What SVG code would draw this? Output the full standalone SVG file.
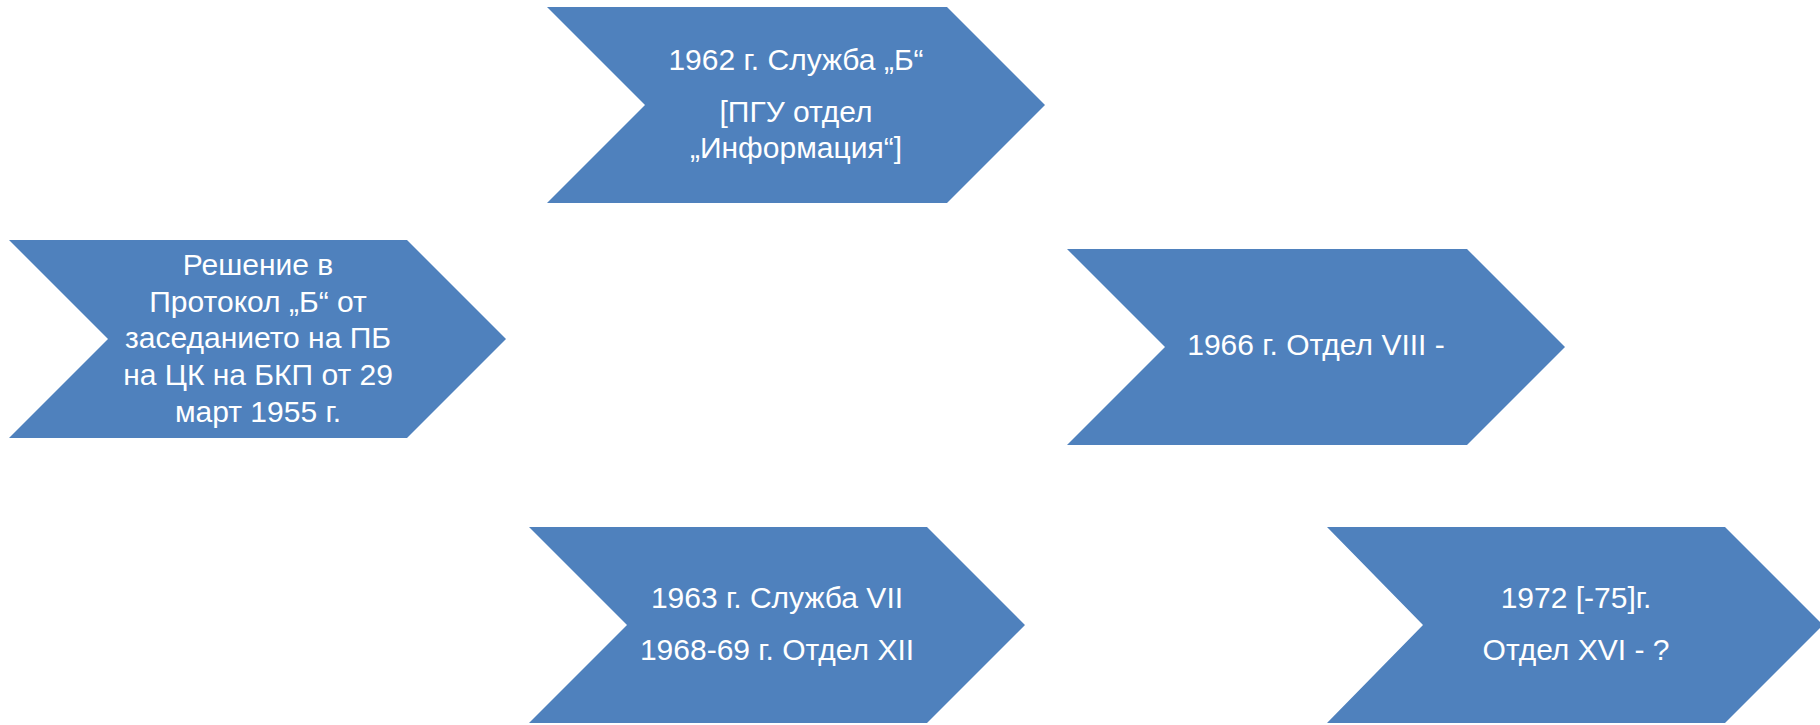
<svg xmlns="http://www.w3.org/2000/svg" width="1820" height="725" viewBox="0 0 1820 725">
<style>
.shape{fill:#4F81BD;stroke:none}
.lbl{font-family:"Liberation Sans","Noto Sans",Arial,sans-serif;font-size:30px;fill:#FFFFFF;text-anchor:middle}
</style>
<rect width="1820" height="725" fill="#FFFFFF"/>
<g id="connectors"></g>
<g id="node1">
<polygon class="shape" points="9,240 407,240 506,339 407,438 9,438 108,339"/>
<text class="lbl" x="258" y="275">Решение в</text>
<text class="lbl" x="258" y="312">Протокол „Б“ от</text>
<text class="lbl" x="258" y="348">заседанието на ПБ</text>
<text class="lbl" x="258" y="385">на ЦК на БКП от 29</text>
<text class="lbl" x="258" y="422">март 1955 г.</text>
</g>
<g id="node2">
<polygon class="shape" points="547,7 947,7 1045,105 947,203 547,203 645,105"/>
<text class="lbl" x="796" y="70">1962 г. Служба „Б“</text>
<text class="lbl" x="796" y="122">[ПГУ отдел</text>
<text class="lbl" x="796" y="158">„Информация“]</text>
</g>
<g id="node3">
<polygon class="shape" points="1067,249 1467,249 1565,347 1467,445 1067,445 1165,347"/>
<text class="lbl" x="1316" y="355">1966 г. Отдел VIII -</text>
</g>
<g id="node4">
<polygon class="shape" points="529,527 927,527 1025,625 927,723 529,723 627,625"/>
<text class="lbl" x="777" y="608">1963 г. Служба VII</text>
<text class="lbl" x="777" y="660">1968-69 г. Отдел XII</text>
</g>
<g id="node5">
<polygon class="shape" points="1327,527 1725,527 1823,625 1725,723 1327,723 1423,625"/>
<text class="lbl" x="1576" y="608">1972 [-75]г.</text>
<text class="lbl" x="1576" y="660">Отдел XVI - ?</text>
</g>
</svg>
